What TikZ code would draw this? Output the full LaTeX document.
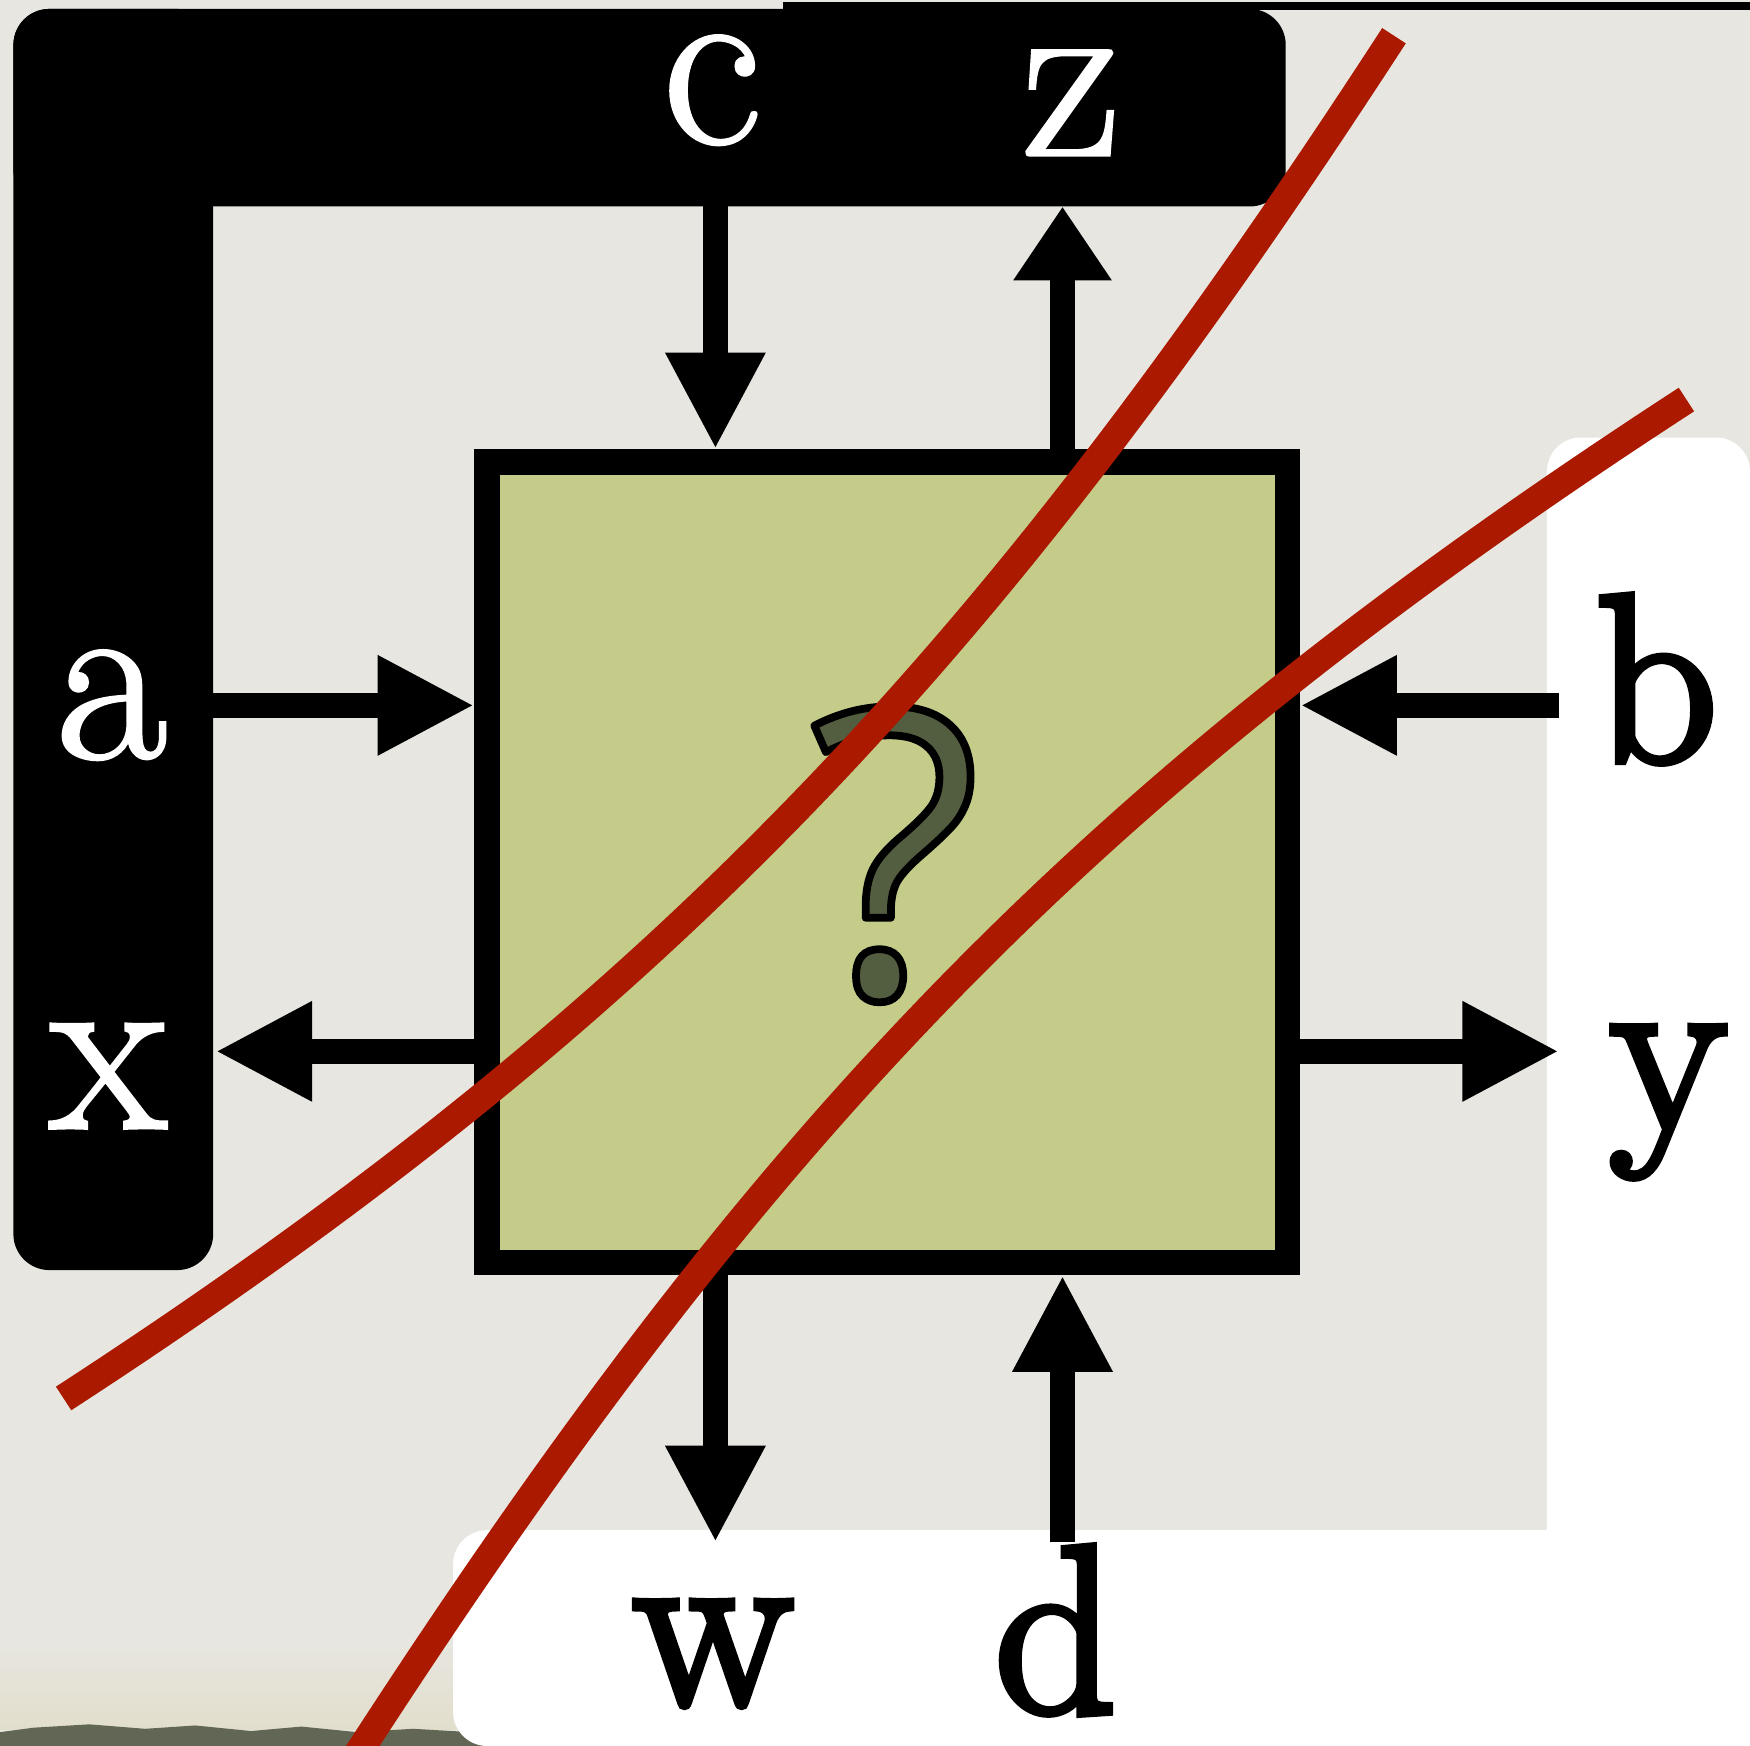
\documentclass[tikz,border=0pt]{standalone}
\usepackage{fontspec}
\newfontfamily\qfont{Open Sans}
\usetikzlibrary{arrows.meta}
\definecolor{paper}{RGB}{231,230,224}
\definecolor{boxgreen}{RGB}{197,204,138}
\definecolor{redline}{RGB}{170,25,0}
\definecolor{qolive}{RGB}{83,93,63}
\definecolor{land}{RGB}{98,102,84}
\definecolor{landtint}{RGB}{226,222,204}
\newcommand{\qoutline}{\special{pdf:literal direct 0 G 2.2 w 1 j 2 Tr}}
\begin{document}
\begin{tikzpicture}[x=0.011161cm,y=-0.011161cm,
  arr/.style={line width=7pt,-{Triangle[length=27.5pt,width=26.5pt]}},
  arrshort/.style={line width=7pt,-{Triangle[length=21pt,width=26.5pt]}},
  cut/.style={draw=redline,line width=8pt},
  wl/.style={text=white,font=\fontsize{69}{69}\selectfont,inner sep=0pt,anchor=base,
    execute at begin node={\special{pdf:literal direct 1 G 0.9 w 0 j 4 M 2 Tr}},
    execute at end node={\special{pdf:literal direct 0 Tr}}},
  bl/.style={text=black,font=\fontsize{68}{68}\selectfont,inner sep=0pt,anchor=base,
    execute at begin node={\special{pdf:literal direct 0 G 2.2 w 0 j 4 M 2 Tr}},
    execute at end node={\special{pdf:literal direct 0 Tr}}},
  box/.style={draw=black,fill=boxgreen,line width=7.2pt,minimum width=8.0cm,minimum height=8.0cm,inner sep=0pt},
  qm/.style={text=qolive,font=\qfont\fontsize{114}{114}\selectfont,inner sep=0pt,anchor=base,
    execute at end node={\special{pdf:literal direct 0 Tr}}}]
\useasboundingbox (0,0) rectangle (1568,1564.4);
\clip (0,0) rectangle (1568,1564.4);
% background
\fill[paper] (-10,-10) rectangle (1580,1580);
\fill[top color=paper,bottom color=landtint] (0,1470) rectangle (440,1550);
\fill[land] (0,1552) -- (30,1548) -- (80,1545) -- (130,1549) -- (175,1546) -- (225,1551) -- (270,1547) -- (320,1552) -- (370,1549) -- (440,1553) -- (440,1580) -- (0,1580) -- cycle;
% white panels
\fill[white,rounded corners=0.34cm] (1386,392) rectangle (1568,1640);
\fill[white,rounded corners=0.34cm] (406,1371) rectangle (1640,1564.4);
% top rule
\fill[black] (702,1.5) rectangle (1580,9);
% black L bracket
\fill[black,rounded corners=0.36cm] (12,8) rectangle (1152,185);
\fill[black,rounded corners=0.36cm] (12,8) rectangle (191,1138);
% central box
\node[box] (box) at (795,772.5) {};
% connector end points
\coordinate (La) at (191,632);
\coordinate (Lx) at (193,942);
\coordinate (Tc) at (641,185);
\coordinate (Tz) at (952,185);
\coordinate (Rb) at (1397,632);
\coordinate (Ry) at (1397,942);
\coordinate (Bw) at (641,1382);
\coordinate (Bd) at (952,1382);
% arrows
\draw[arr] (La) -- (La -| box.west);
\draw[arr] (Lx -| box.west) -- (Lx);
\draw[arr] (Tc) -- (Tc |- box.north);
\draw[arrshort] (Tz |- box.north) -- (Tz);
\draw[arr] (Rb) -- (Rb -| box.east);
\draw[arr] (Ry -| box.east) -- (Ry);
\draw[arr] (Bw |- box.south) -- (Bw);
\draw[arr] (Bd) -- (Bd |- box.south);
% labels
\node[wl] (lc) at (638,128) {c};
\node[wl] (lz) at (960,139) {z};
\node[wl] (la) at (100,679) {a};
\node[wl] (lx) at (97,1011) {x};
\node[bl] (lb) at (1484,682) {b};
\node[bl] (ly) at (1495,1012) {y};
\node[bl] (lw) at (639,1527) {w};
\node[bl] (ld) at (946,1534) {d};
% question mark
\node[qm] (q) at (802,893) {\qoutline ?};
% red strike lines
\draw[cut] (1249,32) .. controls (895,577) and (602,899) .. (57,1253);
\draw[cut] (1511,358) .. controls (966,712) and (679,1019) .. (325,1564.5) -- (308,1590);
\end{tikzpicture}
\end{document}
